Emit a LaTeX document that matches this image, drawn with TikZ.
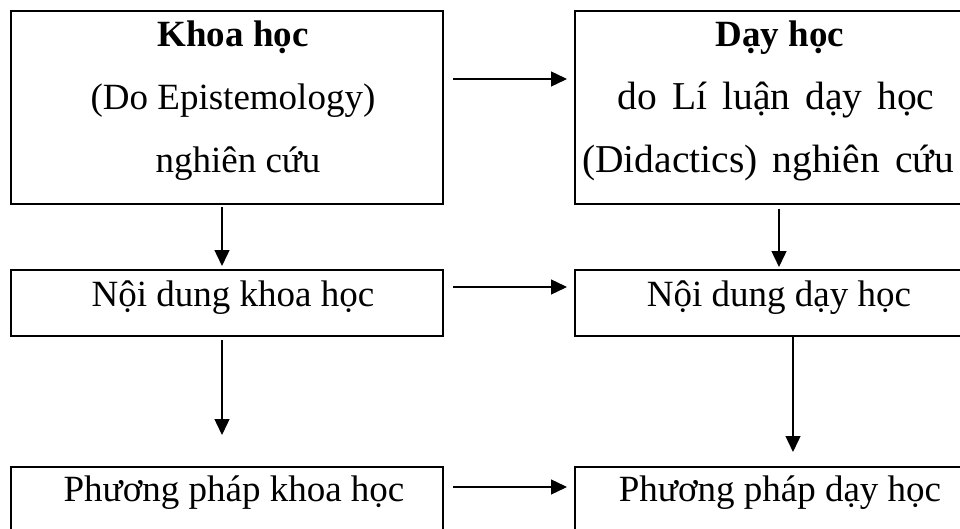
\documentclass[tikz,border=0pt]{standalone}
\usepackage{fontspec}
\setmainfont{Liberation Serif}
\usetikzlibrary{arrows.meta,calc}
\begin{document}
\begin{tikzpicture}[x=1pt,y=-1pt,
  box/.style={draw, line width=2.2pt, inner sep=0pt, outer sep=0pt, anchor=north west},
  lbl/.style={inner sep=0pt, anchor=base, font=\fontsize{37}{44}\selectfont},
  widesp/.style={font=\fontsize{39.5}{46}\selectfont,
    execute at begin node={\spaceskip=15pt plus 0pt minus 0pt\relax}},
  arr/.style={line width=1.4pt, -{Triangle[length=16pt,width=15pt]}}]
\useasboundingbox (0,0) rectangle (960,529);
\clip (0,0) rectangle (960,529);

% boxes: left column (science), right column (teaching)
\node[box, minimum width=432pt, minimum height=193pt] (kh) at (11,11) {};
\node[box, minimum width=410pt, minimum height=193pt] (dh) at (575,11) {};
\node[box, minimum width=432pt, minimum height=66pt]  (nk) at (11,270) {};
\node[box, minimum width=410pt, minimum height=66pt]  (nd) at (575,270) {};
\node[box, minimum width=432pt, minimum height=100pt] (pk) at (11,467) {};
\node[box, minimum width=410pt, minimum height=100pt] (pd) at (575,467) {};

% texts
\node[lbl] (kh1) at (233,47)  {\bfseries Khoa học};
\node[lbl] (kh2) at (233,110) {(Do Epistemology)};
\node[lbl] (kh3) at (238,173) {nghiên cứu};
\node[lbl] (dh1) at (780,47)  {\bfseries Dạy học};
\node[lbl, widesp] (dh2) at (776,110) {do Lí luận dạy học};
\node[lbl, widesp] (dh3) at (768,173) {(Didactics) nghiên cứu};
\node[lbl] (nk1) at (233,306) {Nội dung khoa học};
\node[lbl] (nd1) at (779,306) {Nội dung dạy học};
\node[lbl] (pk1) at (234,501) {Phương pháp khoa học};
\node[lbl] (pd1) at (780,501) {Phương pháp dạy học};

% rows and columns of the connectors
\coordinate (r1) at (0,79);
\coordinate (r2) at (0,287);
\coordinate (r3) at (0,487);
\coordinate (c1) at (222,0);
\coordinate (c2) at (779,0);
\coordinate (c3) at (793,0);

% horizontal arrows
\draw[arr, shorten <=10pt, shorten >=8pt] (kh.east |- r1) -- (dh.west |- r1);
\draw[arr, shorten <=10pt, shorten >=8pt] (nk.east |- r2) -- (nd.west |- r2);
\draw[arr, shorten <=10pt, shorten >=8pt] (pk.east |- r3) -- (pd.west |- r3);

% vertical arrows
\draw[arr, shorten <=3pt, shorten >=4pt]  (kh.south -| c1) -- (nk.north -| c1);
\draw[arr, shorten <=4pt, shorten >=32pt] (nk.south -| c1) -- (pk.north -| c1);
\draw[arr, shorten <=5pt, shorten >=3pt]  (dh.south -| c2) -- (nd.north -| c2);
\draw[arr, shorten <=1pt, shorten >=15pt] (nd.south -| c3) -- (pd.north -| c3);
\end{tikzpicture}
\end{document}
